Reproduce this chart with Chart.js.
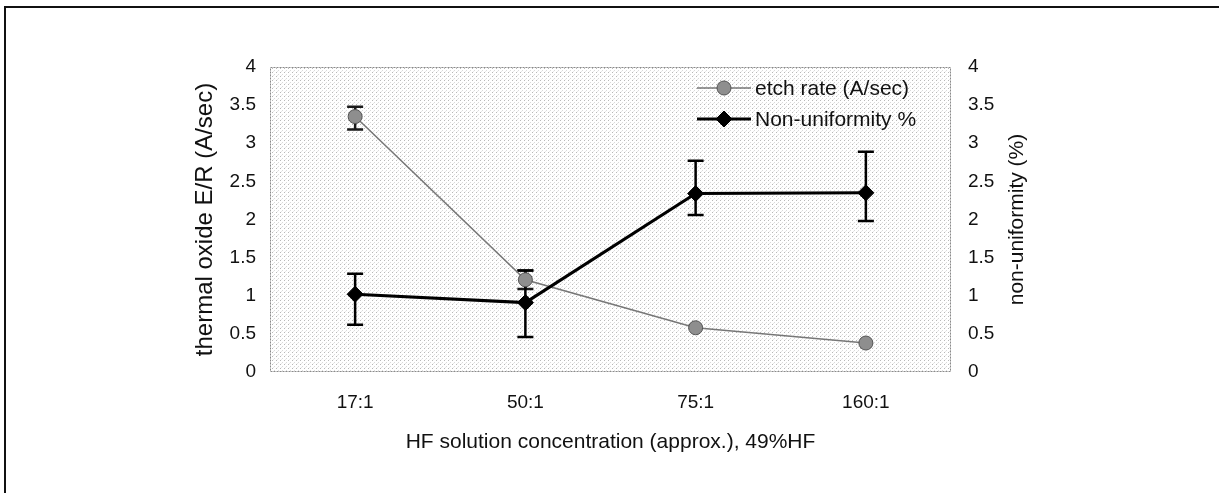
<!DOCTYPE html>
<html><head><meta charset="utf-8">
<script src="https://cdn.jsdelivr.net/npm/chart.js@4.4.0/dist/chart.umd.min.js"></script>
<style>html,body{margin:0;padding:0;background:#fff;}#wrap{width:1219px;height:493px;position:relative;}</style>
</head><body><div id="wrap"><canvas id="c" width="1219" height="493"></canvas></div>
<script>
const categories = ['17:1', '50:1', '75:1', '160:1'];
const etchRate = [3.35, 1.21, 0.58, 0.38];
const etchRateLow = [3.18, 1.09, null, null];
const etchRateHigh = [3.48, 1.33, null, null];
const nonUniformity = [1.02, 0.91, 2.34, 2.35];
const nonUniformityLow = [0.62, 0.46, 2.06, 1.98];
const nonUniformityHigh = [1.29, 1.33, 2.77, 2.89];
const yTickLabels = ['0', '0.5', '1', '1.5', '2', '2.5', '3', '3.5', '4'];
const seriesLabels = ['etch rate (A/sec)', 'Non-uniformity %'];
const xTitle = 'HF solution concentration (approx.), 49%HF';
const yLeftTitle = 'thermal oxide E/R (A/sec)';
const yRightTitle = 'non-uniformity (%)';

const FAMILY = "'Liberation Sans', Arial, sans-serif";
const TXT = '#111';

// stipple pattern for plot background
const pc = document.createElement('canvas');
pc.width = 4; pc.height = 4;
const pctx = pc.getContext('2d');
pctx.fillStyle = '#ffffff'; pctx.fillRect(0, 0, 4, 4);
pctx.fillStyle = '#b8b8b8'; pctx.fillRect(0, 0, 1, 1);
pctx.fillStyle = '#dadada'; pctx.fillRect(2, 2, 1, 1);
pctx.fillStyle = '#e8e8e8'; pctx.fillRect(1, 3, 1, 1);

const errorSets = [
  { lo: etchRateLow, hi: etchRateHigh, axis: 'y', color: '#1a1a1a', width: 2.5 },
  { lo: nonUniformityLow, hi: nonUniformityHigh, axis: 'y2', color: '#000', width: 2.5 }
];

const deco = {
  id: 'deco',
  beforeDraw(chart) {
    const { ctx, chartArea: a } = chart;
    ctx.save();
    ctx.fillStyle = '#fff';
    ctx.fillRect(0, 0, chart.width, chart.height);
    ctx.fillStyle = '#111';
    ctx.fillRect(4, 6, chart.width - 4, 2);
    ctx.fillRect(4, 6, 2, chart.height - 6);
    ctx.fillStyle = ctx.createPattern(pc, 'repeat');
    ctx.fillRect(a.left, a.top, a.right - a.left, a.bottom - a.top);
    ctx.strokeStyle = '#8a8a8a';
    ctx.lineWidth = 1;
    ctx.setLineDash([2, 1]);
    ctx.strokeRect(a.left + 0.5, a.top + 0.5, a.right - a.left - 1, a.bottom - a.top - 1);
    ctx.restore();
  },
  beforeDatasetsDraw(chart) {
    const ctx = chart.ctx;
    const xs = chart.scales.x;
    ctx.save();
    errorSets.forEach(b => {
      const ys = chart.scales[b.axis];
      ctx.strokeStyle = b.color;
      ctx.lineWidth = b.width;
      categories.forEach((c, i) => {
        if (b.lo[i] == null) return;
        const px = xs.getPixelForValue(i);
        const p1 = ys.getPixelForValue(b.lo[i]);
        const p2 = ys.getPixelForValue(b.hi[i]);
        ctx.beginPath();
        ctx.moveTo(px, p1); ctx.lineTo(px, p2);
        ctx.moveTo(px - 8, p1); ctx.lineTo(px + 8, p1);
        ctx.moveTo(px - 8, p2); ctx.lineTo(px + 8, p2);
        ctx.stroke();
      });
    });
    ctx.restore();
  },
  afterDraw(chart) {
    const { ctx, chartArea: a } = chart;
    ctx.save();
    // right axis title (reads bottom to top)
    ctx.fillStyle = TXT;
    ctx.font = '21px ' + FAMILY;
    ctx.textAlign = 'center';
    ctx.textBaseline = 'middle';
    ctx.translate(1017, (a.top + a.bottom) / 2);
    ctx.rotate(-Math.PI / 2);
    ctx.fillText(yRightTitle, 0, 0);
    ctx.restore();

    // legend
    const rows = [88, 119];
    chart.data.datasets.forEach((ds, i) => {
      const y = rows[i];
      ctx.save();
      ctx.strokeStyle = ds.borderColor;
      ctx.lineWidth = ds.borderWidth;
      ctx.beginPath();
      ctx.moveTo(697, y); ctx.lineTo(751, y);
      ctx.stroke();
      ctx.fillStyle = ds.pointBackgroundColor;
      ctx.strokeStyle = ds.pointBorderColor;
      ctx.lineWidth = ds.pointBorderWidth;
      Chart.helpers.drawPoint(ctx, { pointStyle: ds.pointStyle, radius: ds.pointRadius, rotation: 0, borderWidth: ds.pointBorderWidth }, 724, y);
      ctx.fillStyle = TXT;
      ctx.font = '21px ' + FAMILY;
      ctx.textAlign = 'left';
      ctx.textBaseline = 'middle';
      ctx.fillText(ds.label, 755, y + 1);
      ctx.restore();
    });
  }
};

new Chart(document.getElementById('c'), {
  type: 'line',
  data: {
    labels: categories,
    datasets: [
      {
        label: seriesLabels[0], data: etchRate, yAxisID: 'y', order: 1,
        borderColor: '#777777', borderWidth: 1.5, tension: 0,
        pointStyle: 'circle', pointRadius: 7, pointBackgroundColor: '#8e8e8e',
        pointBorderColor: '#555555', pointBorderWidth: 1
      },
      {
        label: seriesLabels[1], data: nonUniformity, yAxisID: 'y2', order: 0,
        borderColor: '#000000', borderWidth: 3, tension: 0,
        pointStyle: 'rectRot', pointRadius: 8, pointBackgroundColor: '#000000',
        pointBorderColor: '#000000', pointBorderWidth: 1
      }
    ]
  },
  options: {
    responsive: false,
    animation: false,
    devicePixelRatio: 1,
    layout: { padding: { left: 180, right: 183, top: 67, bottom: 38 } },
    plugins: { legend: { display: false }, tooltip: { enabled: false } },
    scales: {
      x: {
        type: 'category', offset: true,
        grid: { display: false, drawTicks: false }, border: { display: false },
        ticks: { color: TXT, padding: 19, font: { family: FAMILY, size: 19 } },
        title: { display: true, text: xTitle, color: TXT, font: { family: FAMILY, size: 21 }, padding: { top: 0, bottom: 0 } },
        afterFit(s) { s.height = 83; }
      },
      y: {
        position: 'left', min: 0, max: 4,
        grid: { display: false, drawTicks: false }, border: { display: false },
        ticks: { stepSize: 0.5, color: TXT, padding: 14, font: { family: FAMILY, size: 19 }, callback: (v, i) => yTickLabels[i] },
        title: { display: true, text: yLeftTitle, color: TXT, font: { family: FAMILY, size: 24 }, padding: { top: 11, bottom: 0 } },
        afterFit(s) { s.width = 90; }
      },
      y2: {
        position: 'right', min: 0, max: 4,
        grid: { display: false, drawTicks: false, drawOnChartArea: false }, border: { display: false },
        ticks: { stepSize: 0.5, color: TXT, padding: 17, font: { family: FAMILY, size: 19 }, callback: (v, i) => yTickLabels[i] },
        title: { display: false },
        afterFit(s) { s.width = 85; }
      }
    }
  },
  plugins: [deco]
});
</script></body></html>
